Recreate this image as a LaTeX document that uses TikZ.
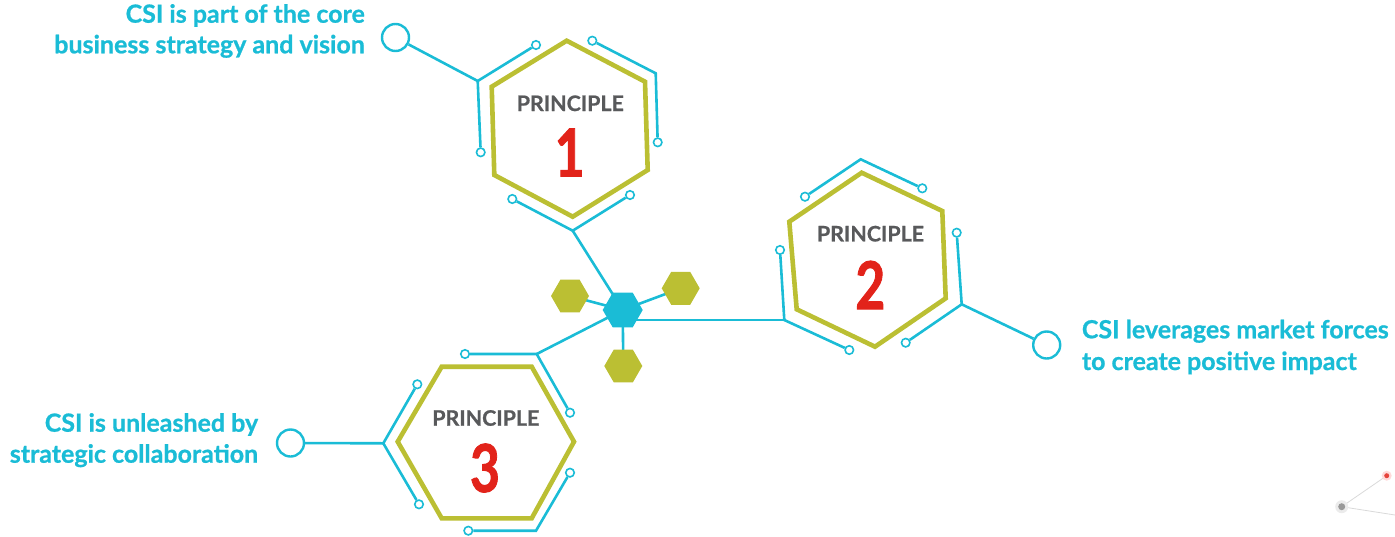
\documentclass[tikz,border=0pt]{standalone}
\usepackage{fontspec}
\setmainfont{Lato}
\newfontfamily\heavyfont{Lato}[BoldFeatures={FakeBold=0.8}]
\newfontfamily\numfont{Lato}[BoldFeatures={FakeBold=1.6}]
\usetikzlibrary{shapes.geometric}
\definecolor{cyanL}{HTML}{1ABCD6}
\definecolor{oliveH}{HTML}{BBBF33}
\definecolor{redN}{HTML}{E2231A}
\definecolor{grayT}{HTML}{58595B}
\pgfdeclarelayer{bg}\pgfsetlayers{bg,main}
\begin{document}
\begin{tikzpicture}[x=1pt,y=-1pt,
  cl/.style={draw=cyanL,line width=2.6pt},
  dotn/.style={circle,draw=cyanL,line width=1.6pt,fill=white,minimum size=8.5pt,inner sep=0pt},
  bign/.style={circle,draw=cyanL,line width=2.4pt,fill=white,minimum size=27pt,inner sep=0pt},
  hexo/.style={draw=oliveH,line width=4.6pt,line join=miter},
  smallhex/.style={regular polygon,regular polygon sides=6,inner sep=0pt,minimum size=38pt,fill=oliveH},
  hubhex/.style={regular polygon,regular polygon sides=6,inner sep=0pt,minimum size=40pt,fill=cyanL},
  ptext/.style={inner sep=0pt,text=grayT,font=\fontsize{21.4}{25}\selectfont\heavyfont\bfseries},
  numtext/.style={inner sep=0pt,text=redN,font=\fontsize{66}{70}\selectfont\numfont\bfseries},
  side/.style={inner sep=0pt,text=cyanL,font=\fontsize{25}{30}\selectfont\heavyfont\bfseries},
]
\useasboundingbox (0,0) rectangle (1395,536);

% ---------- Principle 1 ----------
\draw[hexo] (566.7,40.7) -- (645,81.7) -- (647.7,170) -- (572.7,216.7) -- (494.3,175) -- (491.7,86.7) -- cycle;
\node[ptext] (p1) at (570.3,103.3) {PRINCIPLE};
\node[numtext] (n1) at (569.7,152.5) {\scalebox{0.78}[1]{1}};
\coordinate (k1l) at (477.7,81);
\coordinate (k1r) at (655.7,73.3);
\coordinate (k1b) at (572.7,230.7);
\node[dotn] (d1la) at (536,45) {};
\node[dotn] (d1lb) at (480.7,152.3) {};
\node[dotn] (d1ra) at (592.3,40.7) {};
\node[dotn] (d1rb) at (657.7,142.3) {};
\node[dotn] (d1ba) at (512.3,199) {};
\node[dotn] (d1bb) at (630,195) {};
\node[bign] (B1) at (395.5,37.5) {};

% ---------- Principle 2 ----------
\draw[hexo] (861.7,172.7) -- (942.3,211) -- (945.7,298.3) -- (875,346.7) -- (796.7,309.3) -- (789.3,221.7) -- cycle;
\node[ptext] (p2) at (870.5,233.7) {PRINCIPLE};
\node[numtext] (n2) at (870.3,285) {\scalebox{0.78}[1]{2}};
\coordinate (k2t) at (860.7,159.3);
\coordinate (k2l) at (784.3,320);
\coordinate (k2r) at (961.7,304.3);
\node[dotn] (d2ta) at (805,196.7) {};
\node[dotn] (d2tb) at (922.3,188.3) {};
\node[dotn] (d2la) at (780,250) {};
\node[dotn] (d2lb) at (849.3,350) {};
\node[dotn] (d2ra) at (956.7,232.7) {};
\node[dotn] (d2rb) at (905.7,342.7) {};
\node[bign] (B2) at (1046.7,345) {};

% ---------- Principle 3 ----------
\draw[hexo] (441.7,366.7) -- (531.7,366.7) -- (574,441.7) -- (531.7,518.3) -- (441.7,518.3) -- (397.7,441.7) -- cycle;
\node[ptext] (p3) at (485.8,418) {PRINCIPLE};
\node[numtext] (n3) at (485,468) {\scalebox{0.78}[1]{3}};
\coordinate (k3t) at (536.7,354);
\coordinate (k3l) at (383.3,443.3);
\coordinate (k3b) at (536,530.7);
\node[dotn] (d3ta) at (465,354) {};
\node[dotn] (d3tb) at (570,412.7) {};
\node[dotn] (d3la) at (417.3,384.3) {};
\node[dotn] (d3lb) at (419,504.3) {};
\node[dotn] (d3ba) at (468.3,530.7) {};
\node[dotn] (d3bb) at (570,472.7) {};
\node[bign] (B3) at (290.5,443) {};

% ---------- hub ----------
\node[hubhex] (hub) at (622.7,310) {};
\node[smallhex] (ol) at (570,296) {};
\node[smallhex] (or) at (680.7,288.3) {};
\node[smallhex] (ob) at (623.3,366) {};

% ---------- connectors ----------
\begin{pgfonlayer}{bg}
\draw[cl] (d1la) -- (k1l) -- (d1lb);
\draw[cl] (B1) -- (k1l);
\draw[cl] (d1ra) -- (k1r) -- (d1rb);
\draw[cl] (d1ba) -- (k1b) -- (d1bb);
\draw[cl] (k1b) -- (hub.center);
\draw[cl] (d2ta) -- (k2t) -- (d2tb);
\draw[cl] (d2la) -- (k2l) -- (d2lb);
\draw[cl] (hub.center |- k2l) -- (k2l);
\draw[cl] (d2ra) -- (k2r) -- (d2rb);
\draw[cl] (k2r) -- (B2);
\draw[cl] (d3ta) -- (k3t) -- (d3tb);
\draw[cl] (k3t) -- (hub.center);
\draw[cl] (d3la) -- (k3l) -- (d3lb);
\draw[cl] (B3) -- (k3l);
\draw[cl] (d3ba) -- (k3b) -- (d3bb);
\draw[cl] (hub.center) -- (ol.center);
\draw[cl] (hub.center) -- (or.center);
\draw[cl] (hub.center) -- (ob.center);
\end{pgfonlayer}

% ---------- side texts ----------
\node[side,anchor=base east] (t1a) at (365,22.7) {CSI is part of the core};
\node[side,anchor=base east] (t1b) at (365,53.3) {business strategy and vision};
\node[side,anchor=base west] (t2a) at (1081.7,338.3) {CSI leverages market forces};
\node[side,anchor=base west] (t2b) at (1081.7,370) {to create positive impact};
\node[side,anchor=base east] (t3a) at (258.3,431.7) {CSI is unleashed by};
\node[side,anchor=base east] (t3b) at (258.3,462.7) {strategic collaboration};

% ---------- faint corner decoration ----------
\node[circle,fill=black!8,minimum size=13pt,inner sep=0pt] (g1) at (1341.7,506.7) {};
\node[circle,fill=gray!80,minimum size=7pt,inner sep=0pt] (g1c) at (g1) {};
\node[circle,fill=red!15,minimum size=10pt,inner sep=0pt] (r1) at (1386.7,475.7) {};
\node[circle,fill=redN!85,minimum size=5pt,inner sep=0pt] (r1c) at (r1) {};
\coordinate (e1) at (1395,515);
\begin{pgfonlayer}{bg}
\draw[black!15,line width=0.8pt] (g1c) -- (r1c);
\draw[black!15,line width=0.8pt] (g1c) -- (e1);
\end{pgfonlayer}
\end{tikzpicture}
\end{document}
